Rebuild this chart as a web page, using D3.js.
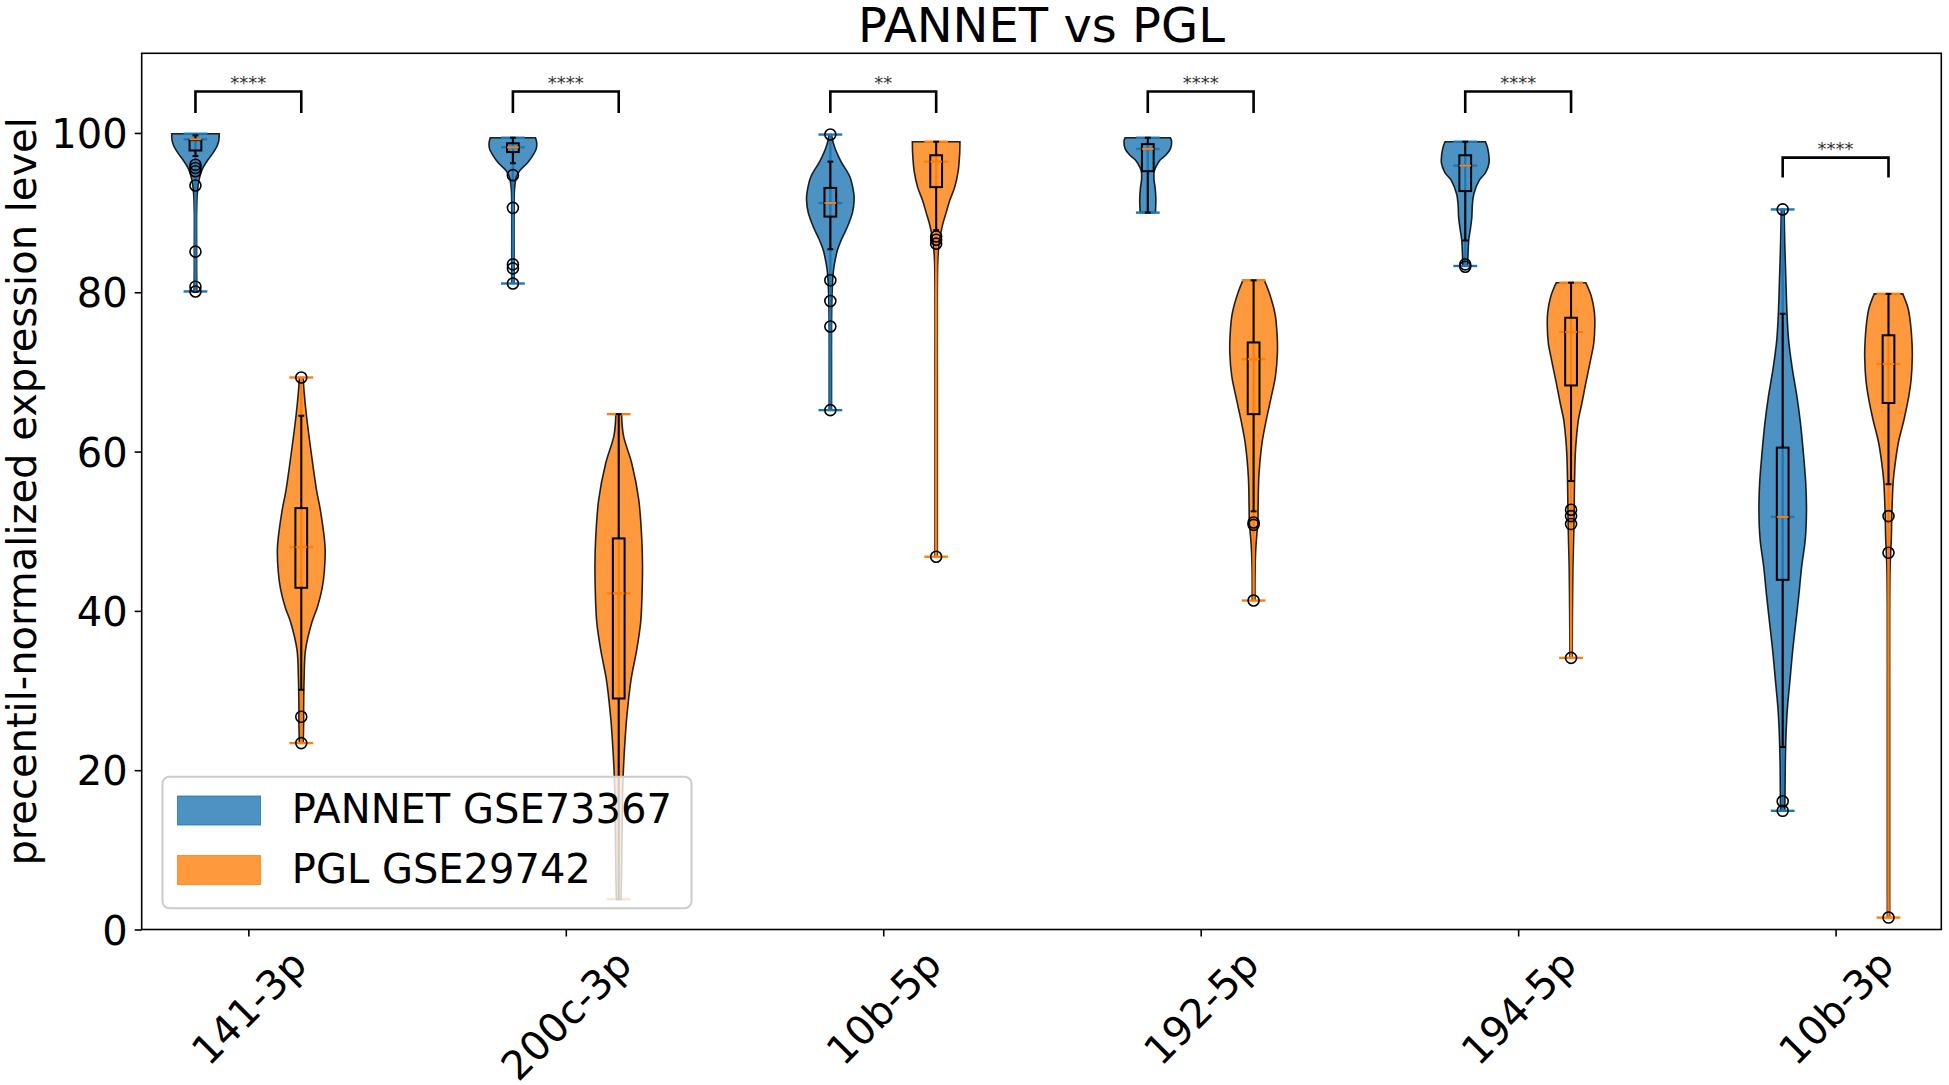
<!DOCTYPE html>
<html>
<head>
<meta charset="utf-8">
<script src="https://cdn.jsdelivr.net/npm/d3@7"></script>
<style>
  body { margin: 0; background: #ffffff; }
  svg { font-family: "DejaVu Sans", sans-serif; }
</style>
</head>
<body>
<div id="chart"></div>
<script>
// Categories and series
var categories = ["141-3p", "200c-3p", "10b-5p", "192-5p", "194-5p", "10b-3p"];
var seriesNames = ["PANNET GSE73367", "PGL GSE29742"];
var yTicks = [0, 20, 40, 60, 80, 100];

// PANNET (blue) summary values, one per category
var pannetMin = [80.1, 81.1, 65.2, 90.0, 83.3, 14.9];
var pannetMax = [99.9, 99.4, 99.8, 99.4, 98.9, 90.4];
var pannetMedian = [99.2, 98.2, 91.2, 98.0, 95.9, 51.8];
var pannetQ1 = [97.8, 97.6, 89.5, 95.2, 92.7, 43.9];
var pannetQ3 = [99.1, 98.7, 93.1, 98.6, 97.2, 60.5];
var pannetWhiskerLow = [97.1, 96.2, 85.4, 90.0, 86.5, 22.9];
var pannetWhiskerHigh = [99.7, 99.4, 96.4, 99.4, 98.9, 77.3];
var pannetFliers = [
  [96.0, 95.6, 95.2, 93.4, 85.1, 80.7, 80.1],
  [94.7, 90.6, 83.5, 83.0, 81.1],
  [99.8, 81.5, 78.9, 75.7, 65.2],
  [],
  [83.5, 83.2],
  [90.4, 16.1, 14.9]
];
// violin outline: [value, relative half-width]
var pannetDensity = [
  [[99.9,1.0],[99,0.98],[98.3,0.9],[97.4,0.72],[96.6,0.52],[95.4,0.28],[94.1,0.15],[92.5,0.08],[90,0.05],[86,0.05],[83,0.05],[80.1,0.06]],
  [[99.4,0.95],[98.8,1.0],[98,0.98],[97,0.8],[96.2,0.6],[95.3,0.3],[94.5,0.15],[93,0.07],[90,0.05],[85,0.05],[82,0.05],[81.1,0.05]],
  [[99.8,0.05],[98.8,0.12],[97.9,0.22],[96.4,0.45],[94.5,0.82],[92.5,0.98],[91.6,1.0],[90,0.93],[88.1,0.7],[86.5,0.45],[85.3,0.3],[83.5,0.17],[82.4,0.12],[79.5,0.07],[75,0.05],[70,0.05],[65.2,0.05]],
  [[99.4,0.95],[99,1.0],[98,0.95],[97.2,0.75],[96.6,0.52],[95.8,0.35],[95.2,0.27],[94.2,0.26],[93.1,0.31],[91.6,0.34],[90,0.32]],
  [[98.9,0.85],[98,0.95],[96.2,1.0],[95,0.85],[94.1,0.6],[92.3,0.36],[91,0.3],[89.5,0.28],[88,0.22],[86.6,0.15],[84.2,0.11],[83.3,0.1]],
  [[90.4,0.06],[86,0.09],[81.1,0.14],[77.5,0.18],[74,0.25],[70.5,0.4],[66.9,0.6],[63.5,0.75],[59.8,0.87],[56,0.97],[52.7,1.0],[49,0.95],[45.6,0.8],[42,0.68],[38.5,0.55],[35,0.42],[31.4,0.31],[27.8,0.2],[24.4,0.14],[20.8,0.11],[17.3,0.1],[14.9,0.09]]
];

// PGL (orange) summary values, one per category
var pglMin = [23.4, 3.8, 46.8, 41.3, 34.1, 1.5];
var pglMax = [69.3, 64.7, 98.9, 81.5, 81.2, 79.8];
var pglMedian = [48.0, 42.2, 96.4, 71.6, 75.0, 71.0];
var pglQ1 = [42.9, 29.0, 93.2, 64.7, 68.3, 66.1];
var pglQ3 = [52.9, 49.1, 97.2, 73.7, 76.8, 74.6];
var pglWhiskerLow = [30.1, 3.8, 87.8, 52.5, 56.3, 55.9];
var pglWhiskerHigh = [64.5, 64.7, 98.9, 81.5, 81.2, 79.8];
var pglFliers = [
  [69.3, 26.7, 23.4],
  [],
  [87.0, 86.6, 86.1, 46.8],
  [51.1, 50.8, 41.3],
  [52.7, 51.9, 50.9, 34.1],
  [51.9, 47.3, 1.5]
];
var pglDensity = [
  [[69.3,0.08],[67.5,0.12],[64.5,0.22],[59.6,0.43],[55,0.65],[52.7,0.8],[48,1.0],[45,0.97],[42.9,0.88],[40.5,0.68],[38.6,0.45],[35.1,0.18],[31.5,0.12],[28,0.1],[25.9,0.1],[23.4,0.08]],
  [[64.7,0.12],[62,0.2],[58.5,0.55],[54,0.84],[49,0.97],[45.7,1.0],[42,0.98],[38.5,0.92],[35,0.75],[31.4,0.52],[27,0.35],[24.4,0.28],[18.8,0.18],[12,0.14],[7,0.12],[3.8,0.1]],
  [[98.9,1.0],[97.5,0.99],[95.1,0.92],[93.2,0.78],[91.6,0.58],[90,0.42],[88.8,0.3],[87.5,0.2],[86,0.12],[84,0.07],[80,0.05],[70,0.05],[60,0.05],[50,0.05],[46.8,0.05]],
  [[81.5,0.45],[80,0.65],[77.3,0.9],[74.5,0.99],[72.4,1.0],[69.5,0.92],[66.7,0.73],[63.5,0.5],[61,0.35],[56.8,0.22],[53,0.19],[51.2,0.18],[49,0.12],[47,0.08],[44,0.06],[41.3,0.06]],
  [[81.2,0.62],[79.5,0.85],[77.5,0.98],[76,1.0],[73.5,0.95],[71.8,0.84],[68.3,0.6],[66,0.45],[64,0.31],[61.5,0.22],[59.8,0.18],[55,0.14],[52,0.13],[48,0.1],[45.6,0.08],[40,0.06],[36,0.05],[34.1,0.05]],
  [[79.8,0.6],[78,0.82],[76.2,0.92],[73.5,0.99],[71.9,1.0],[69,0.95],[66.9,0.85],[64,0.65],[61.2,0.42],[58.5,0.28],[56.3,0.2],[52,0.14],[49.2,0.12],[45.6,0.07],[40,0.05],[30,0.05],[20,0.05],[10,0.05],[1.5,0.05]]
];

// Significance brackets
var sigLabels = ["****", "****", "**", "****", "****", "****"];
var bracketTop = [105.2, 105.2, 105.2, 105.2, 105.2, 96.9];
var bracketLeg = [102.5, 102.5, 102.5, 102.5, 102.5, 94.4];

// SVG area
var svgWidth = 1949;
var svgHeight = 1085;
var margin = { top: 53.3, right: 7.7, bottom: 155.5, left: 141.7 };
var chartWidth = svgWidth - margin.left - margin.right;
var chartHeight = svgHeight - margin.top - margin.bottom;

var colors = ["#1f77b4", "#ff7f0e"];
var offsets = [-1 / 6, 1 / 6];

var svg = d3.select("#chart")
  .append("svg")
  .attr("width", svgWidth)
  .attr("height", svgHeight);

var chartGroup = svg.append("g")
  .attr("transform", `translate(${margin.left}, ${margin.top})`);

// Scales
var xScale = d3.scaleLinear()
  .domain([-0.336, 5.333])
  .range([0, chartWidth]);
var yScale = d3.scaleLinear()
  .domain([0, 110])
  .range([chartHeight, 0]);

var violinHalf = xScale(0.075) - xScale(0);
var extremaHalf = xScale(0.0375) - xScale(0);
var boxHalf = xScale(0.0185) - xScale(0);
var capHalf = boxHalf / 2;

// one record per violin
var violins = [];
categories.forEach(function(cat, i) {
  violins.push({ s: 0, i: i, min: pannetMin[i], max: pannetMax[i], med: pannetMedian[i],
    q1: pannetQ1[i], q3: pannetQ3[i], wlo: pannetWhiskerLow[i], whi: pannetWhiskerHigh[i],
    fliers: pannetFliers[i], dens: pannetDensity[i] });
  violins.push({ s: 1, i: i, min: pglMin[i], max: pglMax[i], med: pglMedian[i],
    q1: pglQ1[i], q3: pglQ3[i], wlo: pglWhiskerLow[i], whi: pglWhiskerHigh[i],
    fliers: pglFliers[i], dens: pglDensity[i] });
});
function cx(d) { return xScale(d.i + offsets[d.s]); }

// Violin bodies
violins.forEach(function(d) {
  var c = cx(d);
  var area = d3.area()
    .y(p => yScale(p[0]))
    .x0(p => c - p[1] * violinHalf)
    .x1(p => c + p[1] * violinHalf)
    .curve(d3.curveCatmullRom);
  chartGroup.append("path")
    .attr("d", area(d.dens))
    .attr("fill", colors[d.s])
    .attr("fill-opacity", 0.8)
    .attr("stroke", "#000")
    .attr("stroke-opacity", 0.85)
    .attr("stroke-width", 1.6);
});

// Violin center bars, extrema and medians
violins.forEach(function(d) {
  var c = cx(d);
  var g = chartGroup.append("g")
    .attr("stroke", colors[d.s])
    .attr("stroke-width", 2.4);
  g.append("line").attr("x1", c).attr("x2", c)
    .attr("y1", yScale(d.min)).attr("y2", yScale(d.max));
  [d.min, d.max, d.med].forEach(function(v) {
    g.append("line").attr("x1", c - extremaHalf).attr("x2", c + extremaHalf)
      .attr("y1", yScale(v)).attr("y2", yScale(v));
  });
});

// Box plots
violins.forEach(function(d) {
  var c = cx(d);
  var g = chartGroup.append("g")
    .attr("stroke", "#000")
    .attr("stroke-width", 2)
    .attr("fill", "none");
  g.append("line").attr("x1", c).attr("x2", c)
    .attr("y1", yScale(d.q3)).attr("y2", yScale(d.whi));
  g.append("line").attr("x1", c).attr("x2", c)
    .attr("y1", yScale(d.q1)).attr("y2", yScale(d.wlo));
  [d.wlo, d.whi].forEach(function(v) {
    g.append("line").attr("x1", c - capHalf).attr("x2", c + capHalf)
      .attr("y1", yScale(v)).attr("y2", yScale(v));
  });
  g.append("rect")
    .attr("x", c - boxHalf)
    .attr("y", yScale(d.q3))
    .attr("width", 2 * boxHalf)
    .attr("height", yScale(d.q1) - yScale(d.q3));
  g.append("line").attr("x1", c - boxHalf).attr("x2", c + boxHalf)
    .attr("y1", yScale(d.med)).attr("y2", yScale(d.med))
    .attr("stroke", colors[1]);
  g.selectAll("circle")
    .data(d.fliers)
    .enter()
    .append("circle")
    .attr("cx", c)
    .attr("cy", v => yScale(v))
    .attr("r", 5.5)
    .attr("stroke-width", 1.6);
});

// Significance brackets
categories.forEach(function(cat, i) {
  var xa = xScale(i + offsets[0]);
  var xb = xScale(i + offsets[1]);
  var path = d3.path();
  path.moveTo(xa, yScale(bracketLeg[i]));
  path.lineTo(xa, yScale(bracketTop[i]));
  path.lineTo(xb, yScale(bracketTop[i]));
  path.lineTo(xb, yScale(bracketLeg[i]));
  chartGroup.append("path")
    .attr("d", path.toString())
    .attr("fill", "none")
    .attr("stroke", "#000")
    .attr("stroke-width", 2.6);
  chartGroup.append("text")
    .attr("x", (xa + xb) / 2)
    .attr("y", yScale(bracketTop[i]) - 3)
    .attr("text-anchor", "middle")
    .attr("font-size", 18)
    .attr("fill", "#333")
    .text(sigLabels[i]);
});

// Legend
var legend = chartGroup.append("g")
  .attr("transform", `translate(${162.5 - margin.left}, ${776.7 - margin.top})`);
legend.append("rect")
  .attr("width", 529)
  .attr("height", 131.6)
  .attr("rx", 7)
  .attr("fill", "#fff")
  .attr("fill-opacity", 0.8)
  .attr("stroke", "#cccccc")
  .attr("stroke-width", 2);
seriesNames.forEach(function(name, k) {
  legend.append("rect")
    .attr("x", 15)
    .attr("y", 19.3 + k * 59.5)
    .attr("width", 83)
    .attr("height", 29)
    .attr("fill", colors[k])
    .attr("fill-opacity", 0.8)
    .attr("stroke", colors[k])
    .attr("stroke-opacity", 0.8);
  legend.append("text")
    .attr("x", 129.3)
    .attr("y", 46.6 + k * 60)
    .attr("font-size", 40)
    .attr("fill", "#000")
    .text(name);
});

// Axes frame
chartGroup.append("rect")
  .attr("width", chartWidth)
  .attr("height", chartHeight)
  .attr("fill", "none")
  .attr("stroke", "#000")
  .attr("stroke-width", 1.6);

// Left axis
var leftAxis = d3.axisLeft(yScale)
  .tickValues(yTicks)
  .tickSize(7)
  .tickPadding(7);
var yAxisGroup = chartGroup.append("g").call(leftAxis);
yAxisGroup.select(".domain").remove();
yAxisGroup.selectAll("line").attr("stroke-width", 1.6);
yAxisGroup.selectAll("text")
  .attr("font-size", 40)
  .attr("font-family", "DejaVu Sans")
  .attr("fill", "#000")
  .attr("dy", "0.365em");

// Bottom axis
var bottomAxis = d3.axisBottom(xScale)
  .tickValues(d3.range(categories.length))
  .tickFormat(i => categories[i])
  .tickSize(7);
var xAxisGroup = chartGroup.append("g")
  .attr("transform", `translate(0, ${chartHeight})`)
  .call(bottomAxis);
xAxisGroup.select(".domain").remove();
xAxisGroup.selectAll("line").attr("stroke-width", 1.6);
xAxisGroup.selectAll("text")
  .attr("font-size", 40)
  .attr("font-family", "DejaVu Sans")
  .attr("fill", "#000")
  .attr("y", 0)
  .attr("dy", "0.35em")
  .attr("text-anchor", "middle")
  .each(function() {
    var len = this.getComputedTextLength();
    var cy = 13.5 + (len + 40) / (2 * Math.SQRT2);
    d3.select(this).attr("transform", `translate(0, ${cy}) rotate(-45)`);
  });

// Y label
svg.append("text")
  .attr("transform", `translate(36, ${margin.top + chartHeight / 2}) rotate(-90)`)
  .attr("text-anchor", "middle")
  .attr("font-size", 40)
  .attr("fill", "#000")
  .text("precentil-normalized expression level");

// Title
svg.append("text")
  .attr("x", margin.left + chartWidth / 2)
  .attr("y", 42)
  .attr("text-anchor", "middle")
  .attr("font-size", 48)
  .attr("fill", "#000")
  .text("PANNET vs PGL");
</script>
</body>
</html>
